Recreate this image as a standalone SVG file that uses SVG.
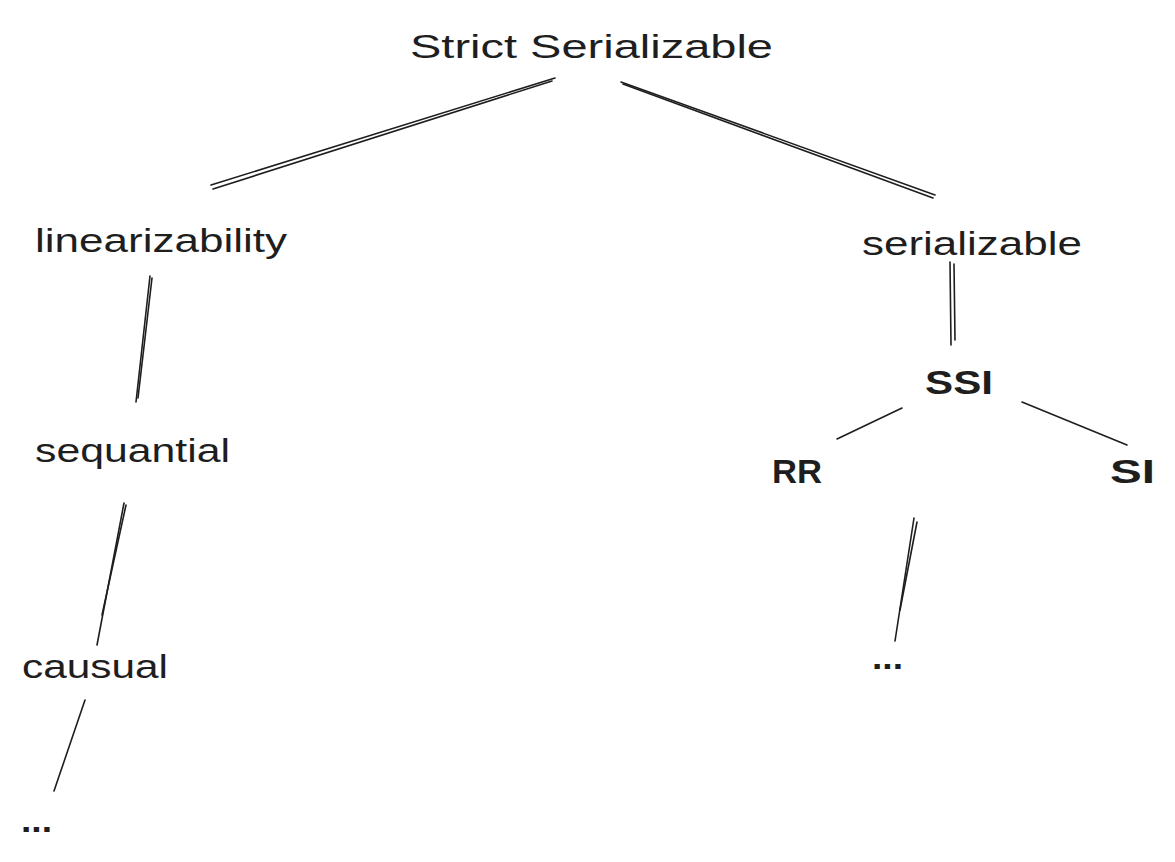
<svg xmlns="http://www.w3.org/2000/svg" width="1175" height="862" viewBox="0 0 1175 862">
<style>
.t{font-family:"Liberation Sans","DejaVu Sans",sans-serif;font-size:34px;fill:#1e1e1e}
.b{font-weight:bold}
.c path{fill:none;stroke:#1e1e1e;stroke-width:1.6;stroke-linecap:round}
</style>
<rect width="1175" height="862" fill="#ffffff"/>
<g class="c" id="connectors">
<path d="M555 78 L211 185"/><path d="M552 81 L213 189"/>
<path d="M621 82 L935 195"/><path d="M623 84 L933 198"/>
<path d="M150 276 L136 402"/><path d="M152 278 L138 398"/>
<path d="M950 262 L951 345"/><path d="M954 264 L955 340"/>
<path d="M902 408 L837 439" stroke-width="2.4"/>
<path d="M1022 402 L1127 445" stroke-width="2.4"/>
<path d="M124 503 L97 645"/><path d="M126 505 L102 615"/>
<path d="M914 518 L895 641"/><path d="M917 522 L900 610"/>
<path d="M85 700 L54 791"/>
</g>
<g id="n-strict"><text class="t" x="410" y="58" textLength="363" lengthAdjust="spacingAndGlyphs">Strict Serializable</text></g>
<g id="n-lin"><text class="t" x="35" y="252" textLength="252" lengthAdjust="spacingAndGlyphs">linearizability</text></g>
<g id="n-ser"><text class="t" x="862" y="255" textLength="220" lengthAdjust="spacingAndGlyphs">serializable</text></g>
<g id="n-ssi"><text class="t b" x="925" y="394" textLength="68" lengthAdjust="spacingAndGlyphs">SSI</text></g>
<g id="n-rr"><text class="t b" x="772" y="483" textLength="50" lengthAdjust="spacingAndGlyphs">RR</text></g>
<g id="n-si"><text class="t b" x="1110" y="483" textLength="45" lengthAdjust="spacingAndGlyphs">SI</text></g>
<g id="n-seq"><text class="t" x="35" y="462" textLength="195" lengthAdjust="spacingAndGlyphs">sequantial</text></g>
<g id="n-causual"><text class="t" x="22" y="678" textLength="146" lengthAdjust="spacingAndGlyphs">causual</text></g>
<g id="n-dots1"><text class="t b" x="21" y="832" textLength="31" lengthAdjust="spacingAndGlyphs">...</text></g>
<g id="n-dots2"><text class="t b" x="872" y="669" textLength="31" lengthAdjust="spacingAndGlyphs">...</text></g>
</svg>
